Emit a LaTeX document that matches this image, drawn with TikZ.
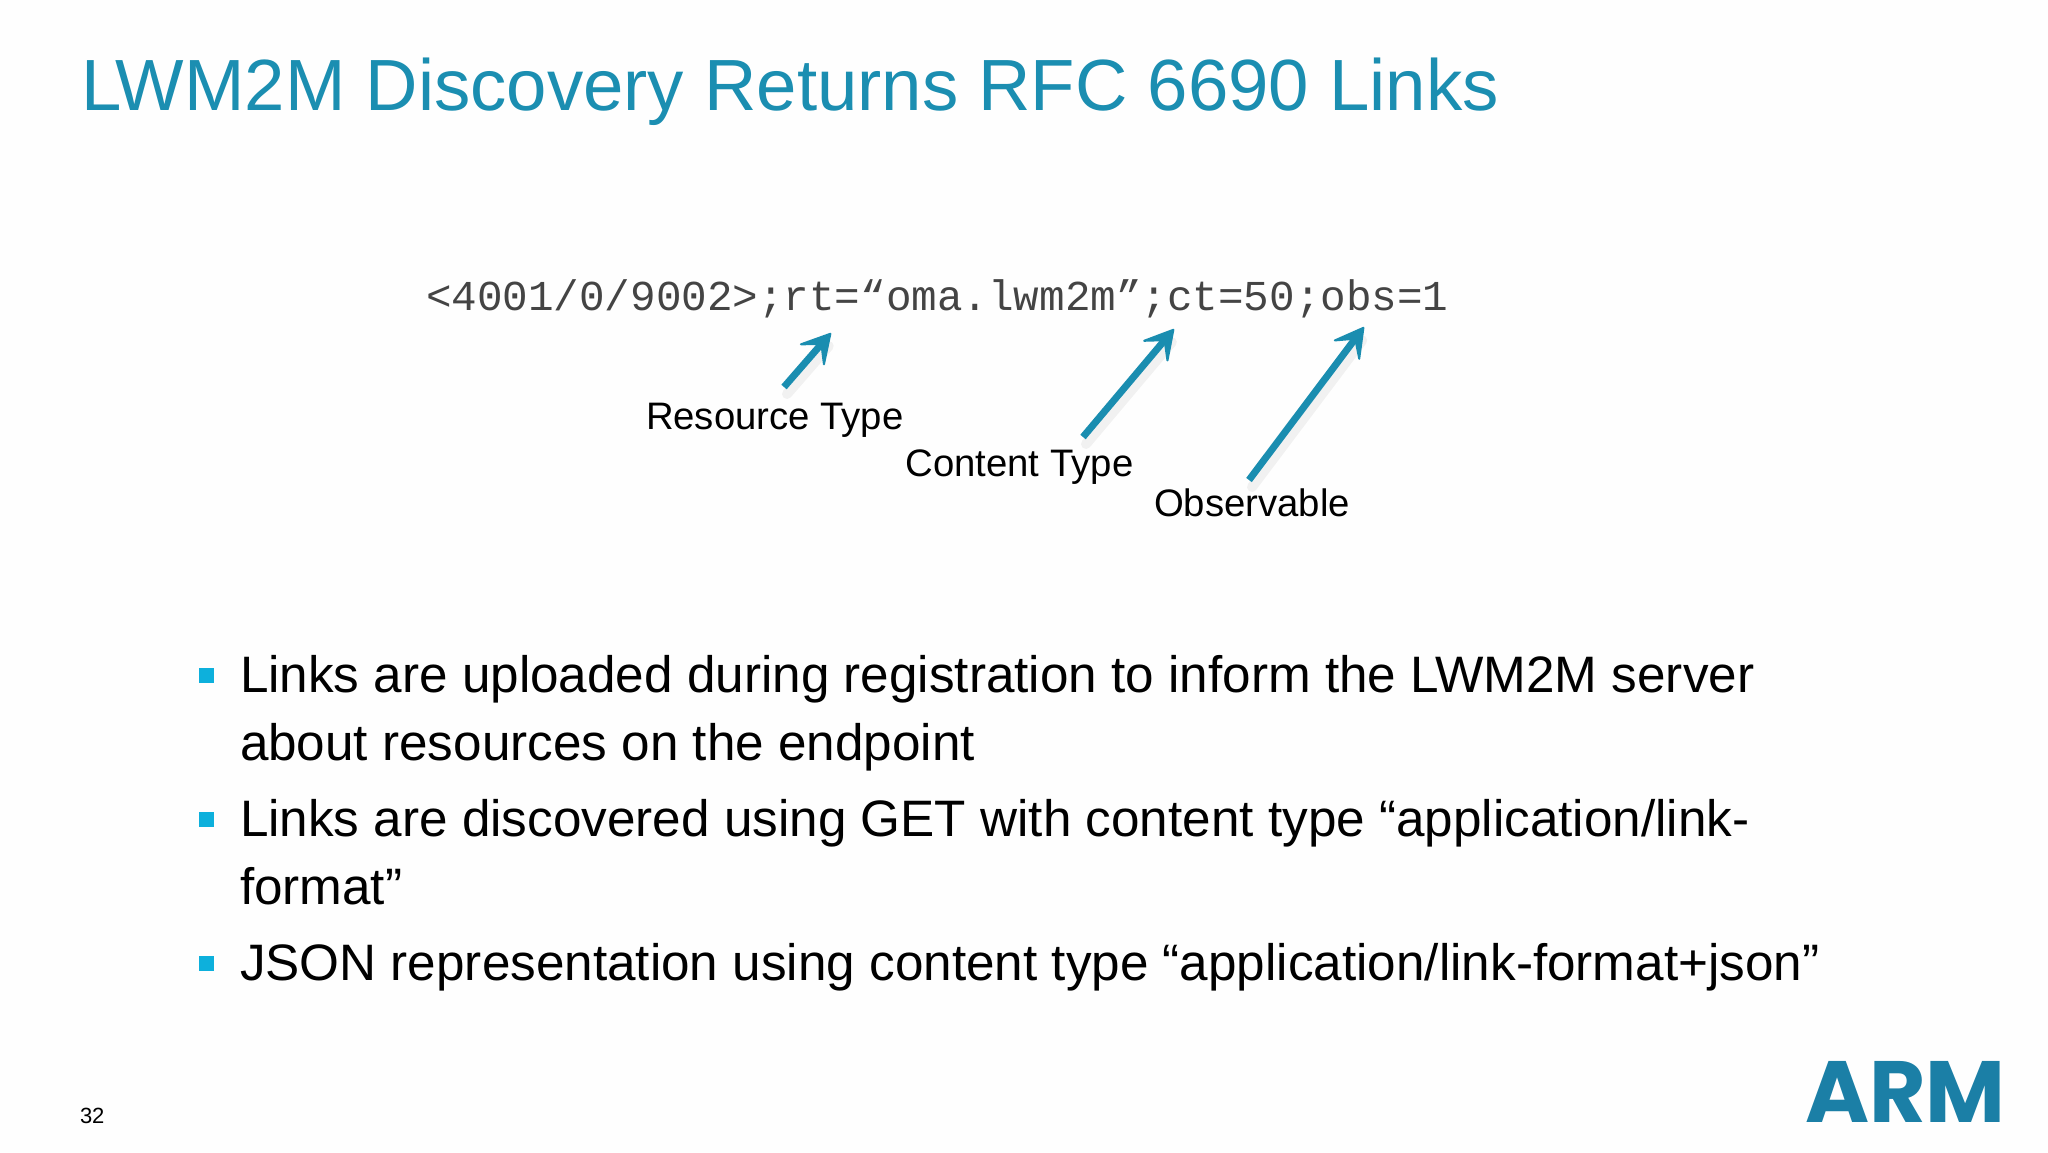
\documentclass[tikz,border=0pt]{standalone}
\usepackage{fontspec}
\usetikzlibrary{arrows.meta}
\setmainfont{Liberation Sans}
\newfontfamily\codefont{Liberation Mono}
\newfontfamily\logofont[Scale=1]{Poppins}
\definecolor{armblue}{HTML}{1A8DB0}
\definecolor{titleblue}{HTML}{1B8EB1}
\definecolor{bulletblue}{HTML}{0DB0DC}
\definecolor{logoblue}{HTML}{1B7FA6}
\definecolor{codegrey}{HTML}{444444}
\definecolor{paper}{HTML}{FEFEFE}
\tikzset{
  x=1pt,y=-1pt,
  txt/.style={anchor=base west,inner sep=0pt,outer sep=0pt},
  title/.style={txt,text=titleblue,font=\fontsize{72.55}{72}\selectfont},
  code/.style={txt,text=codegrey,font=\codefont\fontsize{42.6}{43}\selectfont},
  lab/.style={txt,text=black,font=\fontsize{38.3}{38}\selectfont},
  body/.style={txt,text=black,font=\fontsize{51.25}{51}\selectfont},
  bull/.style={fill=bulletblue,minimum size=14.5pt,inner sep=0pt,outer sep=0pt,anchor=north west},
  arr/.style={draw=armblue,line width=7pt,-{Stealth[length=34pt,width=38pt,inset=17pt,round,line width=2pt]}},
  shad/.style={draw=black,line width=10pt,opacity=0.05,line cap=round,shorten >=8pt},
}
\begin{document}
\begin{tikzpicture}
\useasboundingbox (0,0) rectangle (2048,1152);
\fill[paper] (0,0) rectangle (2048,1152);
\node[title] (t) at (81,110) {LWM2M Discovery Returns RFC 6690 Links};
\node[code] (c) at (426,310.5) {<4001/0/9002>;rt=“oma.lwm2m”;ct=50;obs=1};
\node[lab] (l1) at (646,429) {Resource Type};
\node[lab] (l2) at (905.5,476) {Content Type};
\node[lab] (l3) at (1154,516) {Observable};
\coordinate (a1s) at (784,387);
\coordinate (a1e) at (831,333);
\coordinate (a2s) at (1083,437);
\coordinate (a2e) at (1174,329);
\coordinate (a3s) at (1249,480);
\coordinate (a3e) at (1364,327);
\foreach \s/\e in {a1s/a1e,a2s/a2e,a3s/a3e}{
  \draw[shad] ([shift={(3,7)}]\s) -- ([shift={(3,7)}]\e);
  \draw[arr] (\s) -- (\e);
}
\node[bull] (b1) at (199,668) {};
\node[bull] (b2) at (199,812) {};
\node[bull] (b3) at (199,956) {};
\node[body] (x1) at (240,692.5) {Links are uploaded during registration to inform the LWM2M server};
\node[body] (x2) at (240,760.5) {about resources on the endpoint};
\node[body] (x3) at (240,836.5) {Links are discovered using GET with content type “application/link-};
\node[body] (x4) at (240,904) {format”};
\node[body] (x5) at (240,980) {JSON representation using content type “application/link-format+json”};
\node[txt,font=\fontsize{22}{22}\selectfont] (n) at (80,1123) {32};
\node[txt,text=logoblue,font=\logofont\bfseries\fontsize{87}{87}\selectfont] (logo) at (1805,1122) {ARM};
\end{tikzpicture}
\end{document}
